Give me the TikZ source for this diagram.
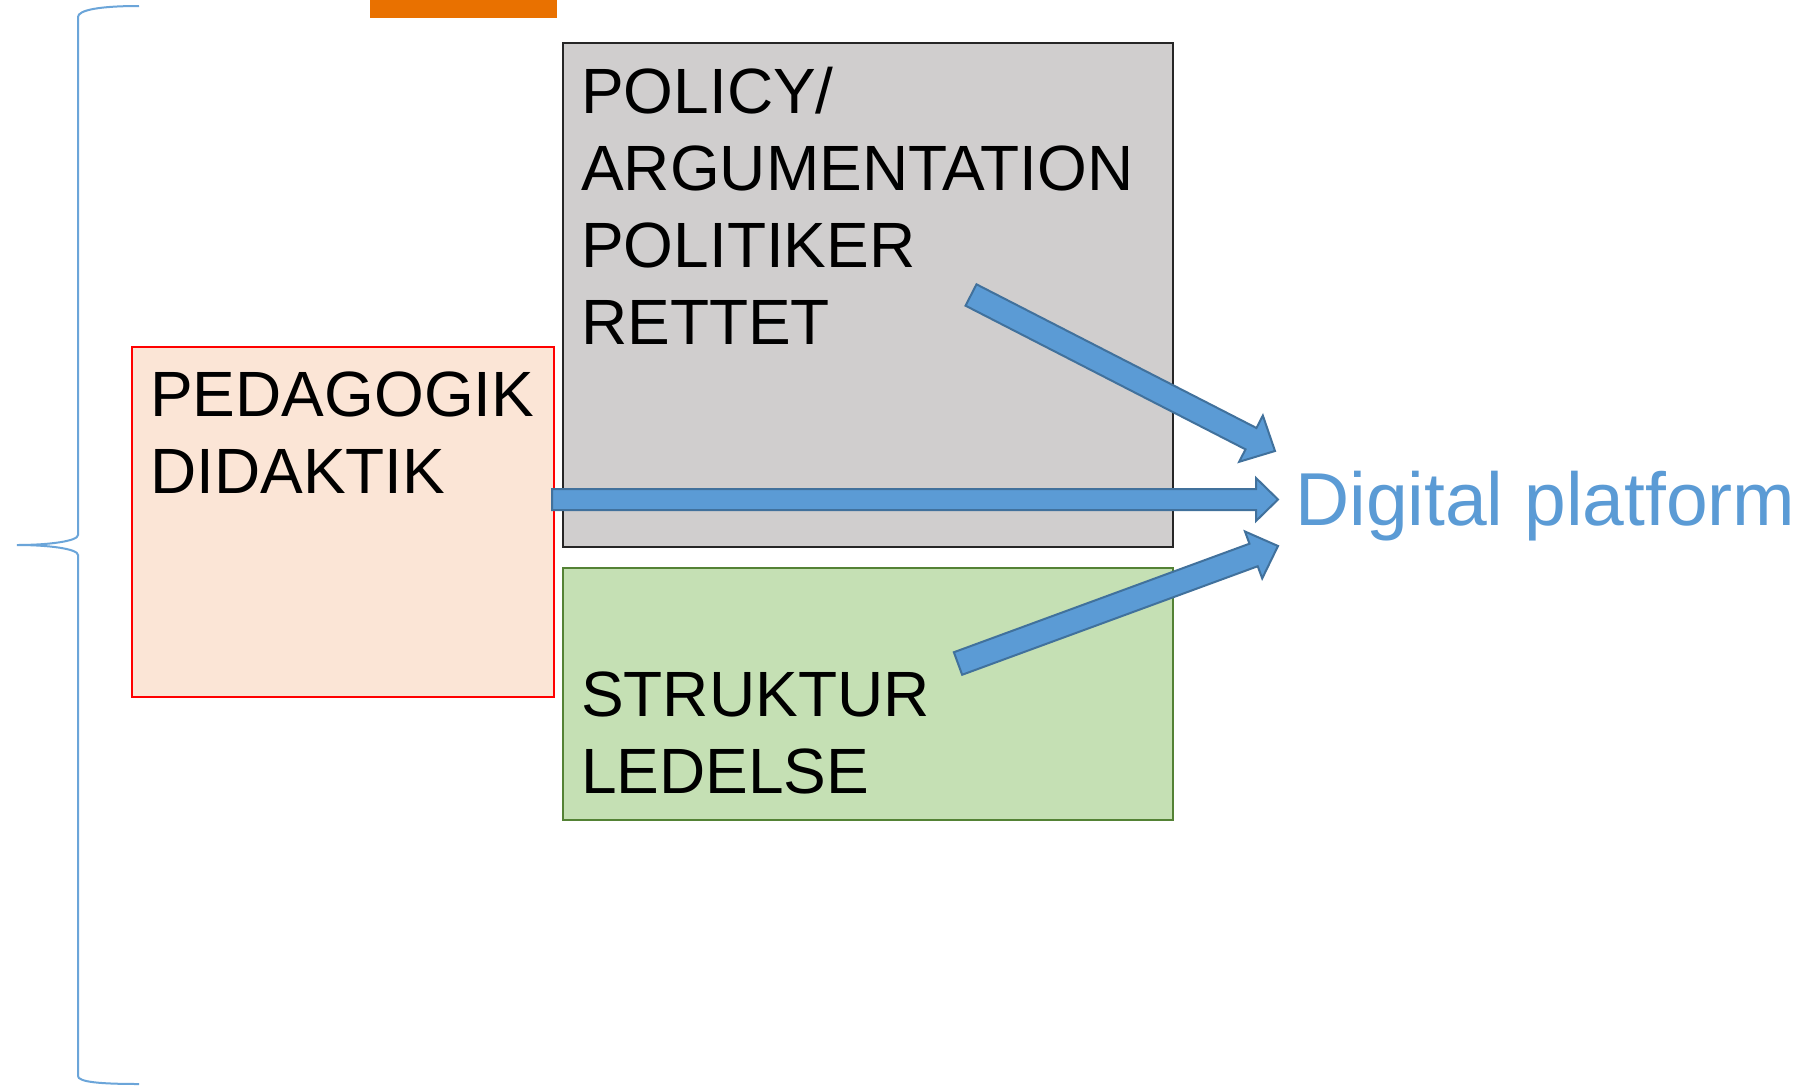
\documentclass[tikz,border=0pt]{standalone}
\usepackage{fontspec}
\setmainfont{Liberation Sans}
\usetikzlibrary{positioning,calc}

\definecolor{boxgrey}{RGB}{208,206,206}
\definecolor{boxgreen}{RGB}{197,224,180}
\definecolor{greenline}{RGB}{84,130,53}
\definecolor{boxpeach}{RGB}{251,229,214}
\definecolor{arrowblue}{RGB}{91,155,213}
\definecolor{arrowline}{RGB}{65,113,156}
\definecolor{barorange}{RGB}{233,113,0}

% block arrow: tail, tip, half shaft, half head, head length
\newcommand{\blockarrow}[5]{%
  \draw[blockarrow] let \p1=($(#2)-(#1)$), \n1={atan2(\y1,\x1)},
      \n2={\n1+90}, \n3={\n1-90}, \n4={\n1+180} in
    ($(#1)+(\n3:#3)$) -- ($(#2)+(\n4:#5)+(\n3:#3)$) -- ($(#2)+(\n4:#5)+(\n3:#4)$)
    -- (#2) -- ($(#2)+(\n4:#5)+(\n2:#4)$) -- ($(#2)+(\n4:#5)+(\n2:#3)$)
    -- ($(#1)+(\n2:#3)$) -- cycle;
}

\begin{document}
\begin{tikzpicture}[x=1pt, y=-1pt,
    boxtext/.style={inner sep=0pt, align=left, font=\fontsize{64}{77}\selectfont},
    greybox/.style={draw=black!85, line width=1.5pt, fill=boxgrey, inner sep=0pt, anchor=north west},
    greenbox/.style={draw=greenline, line width=1.5pt, fill=boxgreen, inner sep=0pt, anchor=north west},
    peachbox/.style={draw=red, line width=1.5pt, fill=boxpeach, inner sep=0pt, anchor=north west},
    blockarrow/.style={draw=arrowline, fill=arrowblue, line width=2pt, line join=miter}]

  \useasboundingbox (0,0) rectangle (1816,1087);
  \fill[white] (0,0) rectangle (1816,1087);

  % Brace and top bar
  \draw[arrowblue!90!white, line width=2pt] (139,6) .. controls (100,6) and (78,10) .. (78,17)
    -- (78,535) .. controls (78,541) and (50,545) .. (17,545)
    .. controls (50,545) and (78,549) .. (78,555)
    -- (78,1076) .. controls (78,1082) and (100,1084) .. (139,1084);
  \fill[barorange] (370,0) rectangle (557,18);

  % Boxes
  \node[greybox, minimum width=610pt, minimum height=504pt] (policy) at (562,42) {};
  \node[greenbox, minimum width=610pt, minimum height=252pt] (struktur) at (562,567) {};
  \node[peachbox, minimum width=422pt, minimum height=350pt] (pedagogik) at (131,346) {};

  % Box texts
  \node[boxtext, below right=24.5pt and 19pt of policy.north west] (policytext)
    {POLICY/\\ARGUMENTATION\\POLITIKER\\RETTET};
  \node[boxtext, below right=104.5pt and 19pt of struktur.north west] (strukturtext)
    {STRUKTUR\\LEDELSE};
  \node[boxtext, below right=25.5pt and 19pt of pedagogik.north west] (pedagogiktext)
    {PEDAGOGIK\\DIDAKTIK};

  % Target
  \node[inner sep=0pt, anchor=base west, text=arrowblue, font=\fontsize{75}{90}\selectfont]
    (digital) at (1295,525) {Digital platform};

  % Arrow ends
  \coordinate (ptail) at (971,295);
  \coordinate (ptip) at (1275,451);
  \coordinate (dtail) at (552,499.5);
  \coordinate (dtip) at (1278,499.5);
  \coordinate (stail) at (958,663.5);
  \coordinate (stip) at (1278,546);

  % Arrows
  \blockarrow{ptail}{ptip}{12pt}{26pt}{27pt}
  \blockarrow{dtail}{dtip}{10.5pt}{21.5pt}{22pt}
  \blockarrow{stail}{stip}{12pt}{25pt}{26pt}

\end{tikzpicture}
\end{document}
